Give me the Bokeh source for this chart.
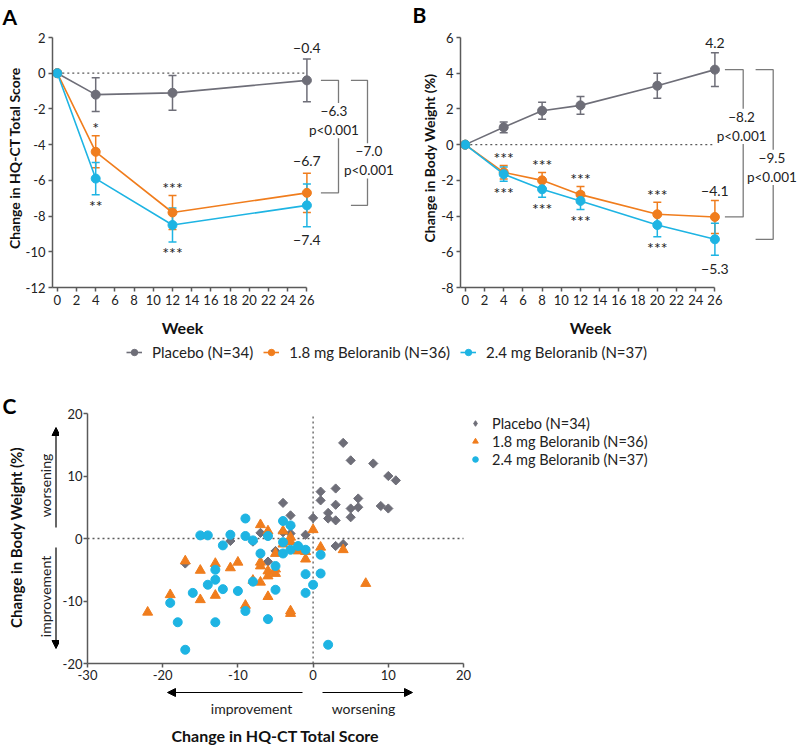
import math
from bokeh.plotting import figure
from bokeh.models import (ColumnDataSource, Whisker, TeeHead, Label, Arrow, NormalHead,
                          Legend, LegendItem, FixedTicker, Range1d)
from bokeh.layouts import column, row
from bokeh.embed import file_html
from bokeh.resources import INLINE
from bokeh.core.properties import value

# ---------------- data ----------------
series_names = ["Placebo (N=34)", "1.8 mg Beloranib (N=36)", "2.4 mg Beloranib (N=37)"]

# Panel A: change in HQ-CT total score
weeks_a = [0, 4, 12, 26]
hq_placebo = [0.0, -1.2, -1.1, -0.4]
hq_placebo_se = [0.0, 0.95, 0.97, 1.2]
hq_18mg = [0.0, -4.4, -7.8, -6.7]
hq_18mg_se = [0.0, 0.9, 0.95, 1.1]
hq_24mg = [0.0, -5.9, -8.5, -7.4]
hq_24mg_se = [0.0, 0.9, 0.95, 1.2]
hq_stars_18mg = ["", "*", "***", ""]
hq_stars_24mg = ["", "**", "***", ""]
hq_end_labels = ["−0.4", "−6.7", "−7.4"]
hq_diffs = ["−6.3", "−7.0"]
hq_pvals = ["p<0.001", "p<0.001"]

# Panel B: change in body weight (%)
weeks_b = [0, 4, 8, 12, 20, 26]
bw_placebo = [0.0, 0.97, 1.9, 2.2, 3.3, 4.2]
bw_placebo_se = [0.0, 0.3, 0.48, 0.5, 0.7, 0.95]
bw_18mg = [0.0, -1.55, -2.0, -2.8, -3.9, -4.05]
bw_18mg_se = [0.0, 0.38, 0.44, 0.46, 0.68, 0.92]
bw_24mg = [0.0, -1.65, -2.5, -3.15, -4.5, -5.3]
bw_24mg_se = [0.0, 0.4, 0.45, 0.48, 0.66, 0.9]
bw_stars_18mg = ["", "***", "***", "***", "***", ""]
bw_stars_24mg = ["", "***", "***", "***", "***", ""]
bw_end_labels = ["4.2", "−4.1", "−5.3"]
bw_diffs = ["−8.2", "−9.5"]
bw_pvals = ["p<0.001", "p<0.001"]

week_ticks = list(range(0, 27, 2))
hq_ticks = [-12, -10, -8, -6, -4, -2, 0, 2]
bw_ticks = [-8, -6, -4, -2, 0, 2, 4, 6]

# Panel C: individual changes at week 26
c_xticks = [-30, -20, -10, 0, 10, 20]
c_yticks = [-20, -10, 0, 10, 20]
pl_x = [4, 5, 8, 10, 11, 1, 3, 1, 6, 3, 5, 6, 9, 10, 2, 2, 3, 5, 0, -4,
        -3, -1, -7, -3, 3, 4, -6, -11, -17, -3, -4, -2, -8, -5]
pl_y = [15.3, 12.5, 12.0, 10.0, 9.3, 7.5, 8.0, 6.1, 6.4, 5.4, 4.8, 5.0, 5.2, 4.8, 4.1,
        3.2, 2.9, 3.4, 3.3, 5.7, 3.7, 0.6, 0.9, 0.8, -1.2, -0.9, -3.7, -0.4, -4.0,
        2.0, 1.0, -1.5, -0.5, -2.0]
mg18_x = [-7, -6, -4, -3, -3, 0, -4, -2, -1, -1, 1, 4, -5, -7, -7, -10, -11, -5,
          -6, -22, -19, -17, -15, -15, -13, -13, -9, -7, -6, -3, -3, 7, -8, -6, -2, -5]
mg18_y = [2.2, 1.2, 1.2, 0.2, -0.5, 1.4, -0.9, -1.7, -2.1, -3.3, -1.4, -1.8, -2.4,
          -3.8, -4.4, -3.8, -4.7, -5.6, -6.0, -11.8, -9.0, -3.6, -5.1, -9.8, -4.0,
          -9.1, -10.7, -7.0, -9.3, -11.6, -12.0, -7.2, -6.7, -5.2, -2.0, -4.9]
mg24_x = [-15, -14, -12, -11, -9, -9, -8, -6, -7, -4, -3, -4, -3, -5, -1, 1, -1, 1,
          -13, -13, -14, -16, -12, -10, -8, -5, 0, -1, -19, -9, -18, -13, -6, -17, 2, -4, -2]
mg24_y = [0.5, 0.5, -1.1, 0.6, 3.2, 0.4, -0.3, 0.4, -2.4, 2.8, 2.1, -2.4, -1.8, -4.4,
          -1.8, -2.6, -5.7, -5.6, -5.0, -6.6, -7.4, -8.7, -8.1, -8.4, -6.9, -8.2, -7.4,
          -8.7, -10.3, -11.6, -13.4, -13.4, -12.9, -17.8, -17.0, -0.6, -1.2]

# ---------------- styling ----------------
FONT = "Lato"
COLORS = ["#6e6e78", "#f07d1d", "#1eb4e3"]
AXC = "#5a5a5a"
BRC = "#7a7a7a"
TXT = "#222222"


def style(p, tx, ty, fs="13px", standoff=3):
    p.outline_line_color = None
    p.grid.visible = False
    p.xaxis.ticker = FixedTicker(ticks=tx, minor_ticks=[])
    p.yaxis.ticker = FixedTicker(ticks=ty, minor_ticks=[])
    p.xaxis.major_label_overrides = {t: str(t) for t in tx}
    p.yaxis.major_label_overrides = {t: str(t) for t in ty}
    for ax in p.axis:
        ax.axis_line_color = AXC
        ax.axis_line_width = 1.5
        ax.major_tick_line_color = AXC
        ax.major_tick_line_width = 1.5
        ax.major_tick_out = 4
        ax.major_tick_in = 0
        ax.minor_tick_line_color = None
        ax.major_label_text_font = FONT
        ax.major_label_text_font_size = fs
        ax.major_label_text_color = TXT
        ax.major_label_standoff = standoff
        ax.axis_label_text_font = FONT
        ax.axis_label_text_font_style = "bold"
        ax.axis_label_text_font_size = "14px"
        ax.axis_label_text_color = "#111111"
        ax.axis_label_standoff = 0


def strip(w, h, x0, y0, left=0):
    """Helper figure whose frame is the strip; data units = page pixels (y negated)."""
    f = figure(width=w, height=h, x_range=Range1d(x0 + left, x0 + w),
               y_range=Range1d(-(y0 + h), -y0), x_axis_type=None, y_axis_type=None,
               output_backend="svg", toolbar_location=None, min_border=0,
               min_border_left=left, title=None)
    f.outline_line_color = None
    return f


def stext(f, xs, ys, texts, size="14px", bold=False, angle=0.0, align="center", color=TXT):
    f.text(x=xs, y=[-v for v in ys], text=texts, angle=angle, text_align=align,
           text_baseline="middle", text_font=value(FONT), text_font_size=size,
           text_font_style="bold" if bold else "normal", text_color=color)


def arrow(f, x0, y0, x1, y1):
    f.add_layout(Arrow(x_start=x0, y_start=-y0, x_end=x1, y_end=-y1,
                       end=NormalHead(size=8, fill_color="black", line_color="black"),
                       line_color="black", line_width=1.2))


def draw_series(p, weeks, means, ses, color):
    hi = [m + s for m, s in zip(means, ses)]
    lo = [m - s for m, s in zip(means, ses)]
    keep = [i for i, s in enumerate(ses) if s > 0]
    wsrc = ColumnDataSource(dict(x=[weeks[i] for i in keep], hi=[hi[i] for i in keep],
                                 lo=[lo[i] for i in keep]))
    p.add_layout(Whisker(source=wsrc, base="x", upper="hi", lower="lo",
                         line_color=color, line_width=1.5,
                         upper_head=TeeHead(size=8, line_color=color, line_width=1.5),
                         lower_head=TeeHead(size=8, line_color=color, line_width=1.5)))
    p.line(weeks, means, line_color=color, line_width=1.6)
    p.scatter(weeks, means, size=9, fill_color=color, line_color=color)
    return hi, lo


def line_panel(weeks, means_list, se_list, stars_hi, stars_lo, end_labels, end_dy,
               diffs, pvals, yticks, left, ylabel, br):
    W, H, top, bottom, x_lo = 400, 284, 0, 25, -0.5
    ppx, ppy = 9.6, 250.0 / (yticks[-1] - yticks[0])
    x_hi = x_lo + (W - left) / ppx
    y_lo = yticks[0]
    y_hi = y_lo + (H - top - bottom) / ppy
    p = figure(width=W, height=H, x_range=Range1d(x_lo, x_hi), y_range=Range1d(y_lo, y_hi),
               output_backend="svg", toolbar_location=None, title=None,
               min_border_left=left, min_border_right=0, min_border_top=top,
               min_border_bottom=bottom)
    style(p, week_ticks, yticks)
    p.xaxis.bounds = (x_lo, weeks[-1])
    p.yaxis.bounds = (yticks[0], yticks[-1])
    p.yaxis.axis_label = ylabel

    p.line([0, weeks[-1]], [0, 0], line_color=AXC, line_width=1.3, line_dash="2 3")
    his, los = [], []
    for means, ses, color in zip(means_list, se_list, COLORS):
        hi, lo = draw_series(p, weeks, means, ses, color)
        his.append(hi)
        los.append(lo)

    # significance stars
    sx, sy, st = [], [], []
    for i, s in enumerate(stars_hi):
        if s:
            sx.append(weeks[i]); sy.append(his[1][i] + 8 / ppy); st.append(s)
    for i, s in enumerate(stars_lo):
        if s:
            sx.append(weeks[i]); sy.append(los[2][i] - 11 / ppy); st.append(s)
    p.text(x="x", y="y", text="t", source=ColumnDataSource(dict(x=sx, y=sy, t=st)),
           text_align="center", text_baseline="middle", text_font=value(FONT),
           text_font_size="16px", text_color=TXT)

    # end-of-study values
    ex, ey = [], []
    for k in range(3):
        ex.append(weeks[-1])
        ey.append((his[k][-1] if end_dy[k] > 0 else los[k][-1]) + end_dy[k] / ppy)
    p.text(x="x", y="y", text="t", source=ColumnDataSource(dict(x=ex, y=ey, t=end_labels)),
           text_align="center", text_baseline="middle", text_font=value(FONT),
           text_font_size="14px", text_color=TXT)

    # comparison brackets
    xe = weeks[-1]
    yt = means_list[0][-1]
    for k in range(2):
        yb = means_list[k + 1][-1]
        xa = xe + br["ticks"][k][0] / ppx
        xb = xe + br["ticks"][k][1] / ppx
        p.line([xa, xb, xb, xa], [yt, yt, yb, yb], line_color=BRC, line_width=1.3)
    for k in range(2):
        yb = means_list[k + 1][-1]
        ymid = (yt + yb) / 2 - br["labels"][k][1] / ppy
        p.add_layout(Label(x=xe + br["labels"][k][0] / ppx, y=ymid,
                           text=diffs[k] + "\n" + pvals[k], text_align="center",
                           text_baseline="middle", text_font=FONT,
                           text_font_size="13.5px", text_color=TXT,
                           background_fill_color="white", text_line_height=1.2))
    return p


pa = line_panel(weeks_a, [hq_placebo, hq_18mg, hq_24mg],
                [hq_placebo_se, hq_18mg_se, hq_24mg_se], hq_stars_18mg, hq_stars_24mg,
                hq_end_labels, [11, 12, -13], hq_diffs, hq_pvals, hq_ticks,
                52, "Change in HQ-CT Total Score",
                dict(ticks=[(14, 31.6), (44, 60.6)], labels=[(27, -16), (62, 18)]))
pb = line_panel(weeks_b, [bw_placebo, bw_18mg, bw_24mg],
                [bw_placebo_se, bw_18mg_se, bw_24mg_se], bw_stars_18mg, bw_stars_24mg,
                bw_end_labels, [10, 10, -14], bw_diffs, bw_pvals, bw_ticks,
                60, "Change in Body Weight (%)",
                dict(ticks=[(10, 28.3), (40.7, 58.3)], labels=[(26.7, -17), (57, 13)]))

# ---------------- top strip: panel letters ----------------
top = strip(800, 28, 0, 0)
stext(top, [2, 412], [16, 14], ["A", "B"], size="21px", bold=True, align="left",
      color="#000000")

# ---------------- middle strip: "Week" titles + shared legend ----------------
mid = strip(800, 61, 0, 312)
stext(mid, [182, 590], [327, 327], ["Week", "Week"], size="16px", bold=True,
      color="#111111")
items = []
for name, means, color in zip(series_names, [hq_placebo, hq_18mg, hq_24mg], COLORS):
    r1 = mid.line(weeks_a, means, line_color=color, line_width=1.6)
    r2 = mid.scatter(weeks_a, means, size=8, fill_color=color, line_color=color)
    items.append(LegendItem(label=name, renderers=[r1, r2]))
mid.add_layout(Legend(items=items, orientation="horizontal", location=(126, 11),
                      padding=0, margin=0, spacing=10, label_standoff=10,
                      glyph_width=16, glyph_height=16, label_height=20,
                      border_line_color=None, background_fill_alpha=0,
                      label_text_font=FONT, label_text_font_size="15px",
                      label_text_color=TXT))

# ---------------- panel C ----------------
LW = 59                      # width of the strip left of panel C
CW, CH, CL, CT, CB = 800 - LW, 313, 28, 40, 23
cppx = 7.52
cx0 = c_xticks[0]
cx1 = cx0 + (CW - CL) / cppx
cy0, cy1 = c_yticks[0], c_yticks[-1]
pc = figure(width=CW, height=CH, x_range=Range1d(cx0, cx1), y_range=Range1d(cy0, cy1),
            output_backend="svg", toolbar_location=None, title=None, min_border_left=CL,
            min_border_right=0, min_border_top=CT, min_border_bottom=CB)
style(pc, c_xticks, c_yticks, fs="13px", standoff=2)
pc.yaxis.major_label_standoff = 1
pc.xaxis.bounds = (c_xticks[0], c_xticks[-1])

pc.line([c_xticks[0], c_xticks[-1]], [0, 0], line_color=AXC, line_width=1.3, line_dash="2 3")
pc.line([0, 0], [c_yticks[0], c_yticks[-1]], line_color=AXC, line_width=1.3, line_dash="2 3")
pc.scatter(pl_x, pl_y, marker="square", angle=math.pi / 4, size=6.5,
           fill_color=COLORS[0], line_color=COLORS[0])
r_18 = pc.scatter(mg18_x, mg18_y, marker="triangle", size=10,
                  fill_color=COLORS[1], line_color=COLORS[1])
r_24 = pc.scatter(mg24_x, mg24_y, marker="circle", size=9,
                  fill_color=COLORS[2], line_color=COLORS[2])
# legend swatch for placebo: same data drawn as diamonds on an off-screen range
pc.extra_x_ranges = {"legend": Range1d(1000, 1001)}
r_pl = pc.scatter(pl_x, pl_y, marker="diamond", size=11, x_range_name="legend",
                  fill_color=COLORS[0], line_color=COLORS[0])
pc.add_layout(Legend(items=[LegendItem(label=n, renderers=[r])
                            for n, r in zip(series_names, [r_pl, r_18, r_24])],
                     location=(381, 195), padding=0, margin=0, spacing=0,
                     label_standoff=10, glyph_width=14, glyph_height=14, label_height=18,
                     border_line_color=None, background_fill_alpha=0,
                     label_text_font=FONT, label_text_font_size="14.5px",
                     label_text_color=TXT))

# left strip of C: letter, y title, direction arrows
cl = strip(LW, 372, 0, 373)
stext(cl, [2], [405], ["C"], size="21px", bold=True, align="left", color="#000000")
stext(cl, [15], [537], ["Change in Body Weight (%)"], size="15px", bold=True,
      angle=math.pi / 2, color="#111111")
stext(cl, [45, 45], [485, 596], ["worsening", "improvement"], size="14px",
      angle=math.pi / 2)
arrow(cl, 55.5, 527, 55.5, 427)
arrow(cl, 55.5, 547, 55.5, 648)

# bottom strip of C (frame aligned with panel C's frame): arrows and x title
cb = strip(CW, 59, LW, 686, left=CL)
arrow(cb, 302, 692, 167, 692)
arrow(cb, 322, 692, 412, 692)
stext(cb, [251, 363], [708, 708], ["improvement", "worsening"], size="14px")
stext(cb, [275], [735], ["Change in HQ-CT Total Score"], size="16px", bold=True,
      color="#111111")

layout = column(top, row(pa, pb), mid, row(cl, column(pc, cb)))
open("out.html", "w").write(file_html(layout, INLINE))
